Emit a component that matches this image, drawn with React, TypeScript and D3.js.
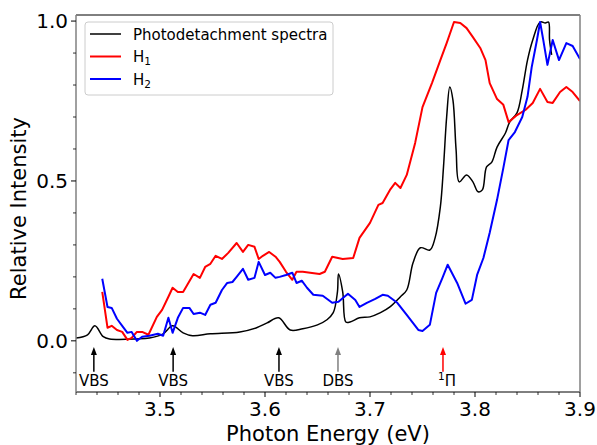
import React from "react";
import * as d3 from "d3";

const photoX = [3.420,3.431,3.438,3.446,3.452,3.478,3.490,3.503,3.512,3.522,3.531,3.548,3.576,3.592,3.602,3.613,3.624,3.636,3.650,3.659,3.665,3.669,3.670,3.674,3.677,3.681,3.690,3.700,3.710,3.719,3.729,3.735,3.741,3.748,3.757,3.762,3.767,3.770,3.773,3.776,3.779,3.782,3.785,3.792,3.798,3.803,3.807,3.811,3.816,3.821,3.829,3.833,3.840,3.845,3.850,3.855,3.862,3.867,3.870,3.871,3.873];
const photoY = [0.009,0.019,0.047,0.013,0.006,0.006,0.009,0.022,0.047,0.025,0.016,0.022,0.028,0.041,0.056,0.072,0.034,0.038,0.050,0.066,0.088,0.153,0.209,0.153,0.059,0.059,0.072,0.075,0.088,0.106,0.138,0.159,0.244,0.291,0.284,0.322,0.419,0.544,0.700,0.794,0.753,0.597,0.497,0.519,0.497,0.466,0.472,0.544,0.559,0.606,0.650,0.684,0.713,0.784,0.878,0.941,0.997,0.994,0.997,0.941,0.894];

const h1X = [3.445,3.450,3.454,3.459,3.464,3.469,3.473,3.478,3.483,3.489,3.497,3.502,3.508,3.512,3.517,3.522,3.527,3.532,3.538,3.543,3.548,3.553,3.559,3.565,3.573,3.579,3.584,3.590,3.594,3.598,3.604,3.610,3.614,3.620,3.626,3.630,3.636,3.643,3.652,3.657,3.664,3.674,3.684,3.690,3.700,3.708,3.712,3.719,3.724,3.729,3.735,3.743,3.750,3.759,3.767,3.773,3.780,3.786,3.792,3.798,3.805,3.810,3.814,3.821,3.827,3.832,3.840,3.848,3.855,3.862,3.869,3.874,3.881,3.887,3.893,3.900];
const h1Y = [0.153,0.041,0.047,0.034,0.028,0.003,0.009,0.028,0.028,0.019,0.075,0.097,0.138,0.166,0.153,0.153,0.181,0.209,0.197,0.231,0.241,0.266,0.256,0.275,0.306,0.278,0.300,0.294,0.256,0.266,0.278,0.263,0.247,0.216,0.191,0.216,0.216,0.213,0.209,0.216,0.263,0.256,0.259,0.322,0.369,0.425,0.431,0.472,0.494,0.478,0.519,0.619,0.731,0.806,0.878,0.931,0.997,0.994,0.978,0.950,0.916,0.878,0.806,0.756,0.738,0.684,0.706,0.722,0.744,0.788,0.747,0.744,0.778,0.794,0.778,0.750];

const h2X = [3.445,3.450,3.454,3.459,3.464,3.469,3.473,3.478,3.483,3.490,3.498,3.503,3.508,3.512,3.517,3.522,3.528,3.532,3.538,3.543,3.548,3.553,3.559,3.564,3.569,3.573,3.579,3.584,3.590,3.594,3.600,3.605,3.610,3.614,3.620,3.626,3.630,3.635,3.640,3.646,3.655,3.664,3.670,3.679,3.686,3.690,3.697,3.705,3.712,3.717,3.726,3.735,3.746,3.750,3.757,3.763,3.769,3.774,3.783,3.791,3.797,3.802,3.808,3.814,3.821,3.827,3.832,3.838,3.845,3.850,3.854,3.859,3.862,3.865,3.869,3.874,3.880,3.887,3.893,3.900];
const h2Y = [0.194,0.106,0.103,0.069,0.047,0.025,0.028,0.000,0.013,0.016,0.022,0.016,0.072,0.025,0.072,0.103,0.103,0.084,0.088,0.081,0.113,0.119,0.159,0.181,0.184,0.200,0.225,0.191,0.197,0.247,0.206,0.213,0.197,0.200,0.206,0.213,0.181,0.188,0.166,0.144,0.141,0.119,0.122,0.147,0.128,0.106,0.119,0.131,0.144,0.141,0.119,0.081,0.034,0.031,0.050,0.150,0.197,0.238,0.181,0.116,0.128,0.206,0.259,0.338,0.441,0.541,0.628,0.653,0.700,0.763,0.856,0.941,0.997,0.941,0.863,0.941,0.878,0.931,0.922,0.881];

const xTicks = [3.5, 3.6, 3.7, 3.8, 3.9];
const yTicks = [0.0, 0.5, 1.0];
const arrowX = [3.437, 3.5125, 3.6133, 3.6695, 3.7695];
const arrowLabels = ["VBS", "VBS", "VBS", "DBS", "PI"];
const arrowColors = ["#000000", "#000000", "#000000", "#808080", "#ff0000"];

const W = 597, H = 445;
const L = 76, R = 580, T = 15, B = 392;
const FONT = "DejaVu Sans, sans-serif";

export default function App() {
  const x = d3.scaleLinear().domain([3.42, 3.9]).range([L, R]);
  const y = d3.scaleLinear().domain([-0.16, 1.019]).range([B, T]);
  const mk = (xs: number[], ys: number[], smooth: boolean) => {
    const g = d3.line<[number, number]>().x(d => x(d[0])).y(d => y(d[1]));
    if (smooth) g.curve(d3.curveCatmullRom.alpha(0.5));
    return g(xs.map((v, i) => [v, ys[i]] as [number, number])) || "";
  };

  const xMinor = d3.range(3.42, 3.9001, 0.02).filter(v => !xTicks.some(t => Math.abs(t - v) < 1e-6));
  const yMinor = d3.range(-0.1, 0.95, 0.1).filter(v => !yTicks.some(t => Math.abs(t - v) < 1e-6));

  const series = [
    { name: "photo", xs: photoX, ys: photoY, color: "#000000", w: 1.5, smooth: true },
    { name: "h1", xs: h1X, ys: h1Y, color: "#ff0000", w: 2, smooth: false },
    { name: "h2", xs: h2X, ys: h2Y, color: "#0000ff", w: 2, smooth: false },
  ];

  const tipY = y(-0.019), tailY = y(-0.097), textY = y(-0.141);

  return (
    <svg width={W} height={H} style={{ position: "absolute", left: 0, top: 0, background: "#fff" }} fontFamily={FONT}>
      <defs>
        <clipPath id="plotclip"><rect x={L} y={T} width={R - L} height={B - T} /></clipPath>
      </defs>
      <rect width={W} height={H} fill="#fff" />
      <g clipPath="url(#plotclip)">
        {series.map(s => (
          <path key={s.name} d={mk(s.xs, s.ys, s.smooth)} fill="none" stroke={s.color} strokeWidth={s.w} strokeLinejoin="round" />
        ))}
      </g>
      {arrowX.map((ax, i) => {
        const px = x(ax);
        return (
          <g key={i}>
            <line x1={px} x2={px} y1={tailY} y2={tipY + 7} stroke={arrowColors[i]} strokeWidth={1.5} />
            <path d={`M${px},${tipY} L${px - 3},${tipY + 8} L${px + 3},${tipY + 8} Z`} fill={arrowColors[i]} />
            {arrowLabels[i] === "PI" ? (
              <text x={px - 5} y={textY} fontSize={15} fill="#000">
                <tspan fontSize={10.5} dy={-6}>1</tspan>
                <tspan dy={6}>Π</tspan>
              </text>
            ) : (
              <text x={px} y={textY} fontSize={15} textAnchor="middle" fill="#000">{arrowLabels[i]}</text>
            )}
          </g>
        );
      })}
      <line x1={L} x2={R} y1={T} y2={T} stroke="#000" strokeWidth={1} />
      <line x1={L} x2={R} y1={B} y2={B} stroke="#000" strokeWidth={1} />
      <line x1={L} x2={L} y1={T} y2={B} stroke="#808080" strokeWidth={1.5} />
      <line x1={R} x2={R} y1={T} y2={B} stroke="#808080" strokeWidth={1.5} />
      {xTicks.map(t => (
        <g key={t}>
          <line x1={x(t)} x2={x(t)} y1={B} y2={B + 5} stroke="#000" />
          <text x={x(t)} y={416} fontSize={20} textAnchor="middle">{t.toFixed(1)}</text>
        </g>
      ))}
      {xMinor.map(t => (
        <line key={t} x1={x(t)} x2={x(t)} y1={B} y2={B + 3} stroke="#000" strokeWidth={0.8} />
      ))}
      {yTicks.map(t => (
        <g key={t}>
          <line x1={L - 5} x2={L} y1={y(t)} y2={y(t)} stroke="#000" />
          <text x={L - 8} y={y(t)} dy="0.36em" fontSize={20} textAnchor="end">{t.toFixed(1)}</text>
        </g>
      ))}
      {yMinor.map(t => (
        <line key={t} x1={L - 3} x2={L} y1={y(t)} y2={y(t)} stroke="#000" strokeWidth={0.8} />
      ))}
      <text x={(L + R) / 2} y={441} fontSize={21} textAnchor="middle">Photon Energy (eV)</text>
      <text transform={`translate(26,${(T + B) / 2 + 5}) rotate(-90)`} fontSize={21} textAnchor="middle">Relative Intensity</text>
      <g>
        <rect x={85} y={22} width={248} height={73} rx={3} fill="#fff" fillOpacity={0.8} stroke="#cccccc" strokeWidth={1} />
        {[
          { c: "#000000", w: 1.5, label: "Photodetachment spectra", sub: "" },
          { c: "#ff0000", w: 2, label: "H", sub: "1" },
          { c: "#0000ff", w: 2, label: "H", sub: "2" },
        ].map((e, i) => {
          const ly = 34 + i * 22.5;
          return (
            <g key={i}>
              <line x1={90} x2={121} y1={ly} y2={ly} stroke={e.c} strokeWidth={e.w} />
              <text x={133} y={ly + 5.5} fontSize={15}>
                {e.label}
                {e.sub && <tspan fontSize={10.5} dy={3}>{e.sub}</tspan>}
              </text>
            </g>
          );
        })}
      </g>
    </svg>
  );
}
